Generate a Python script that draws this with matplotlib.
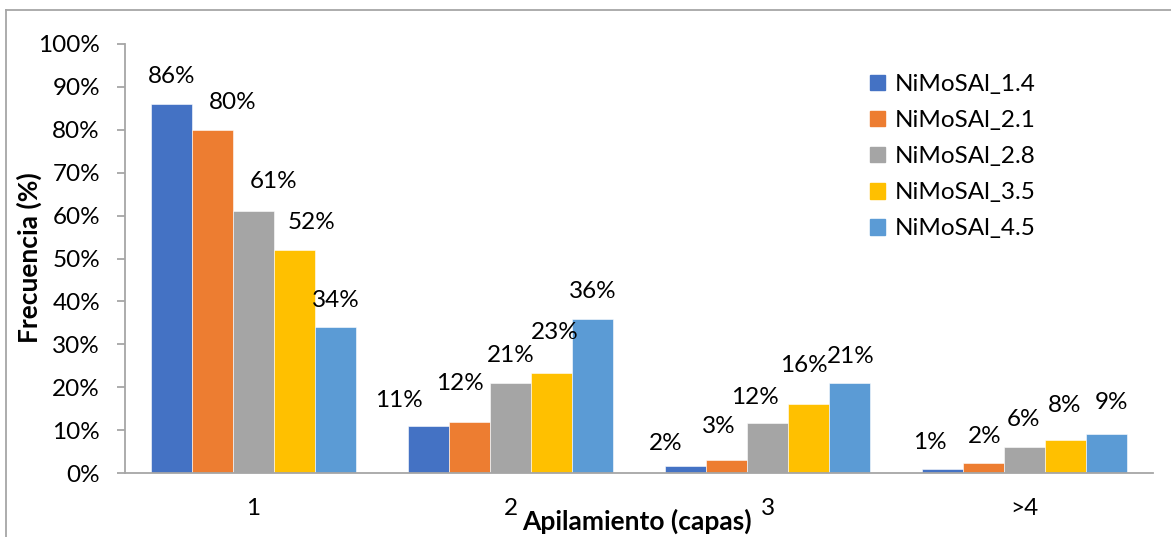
import matplotlib.pyplot as plt
import numpy as np
from matplotlib.lines import Line2D
from matplotlib.patches import Patch

plt.rcParams['font.family'] = ['Lato', 'DejaVu Sans']

# Datos
categorias = ['1', '2', '3', '>4']
series = ['NiMoSAl_1.4', 'NiMoSAl_2.1', 'NiMoSAl_2.8', 'NiMoSAl_3.5', 'NiMoSAl_4.5']
s_14 = [86, 11, 1.6, 0.9]
s_21 = [80, 12, 3.0, 2.3]
s_28 = [61, 21, 11.6, 6.1]
s_35 = [52, 23.3, 16.1, 7.7]
s_45 = [34, 36, 21, 9.1]
valores = [s_14, s_21, s_28, s_35, s_45]

colores = ['#4472C4', '#ED7D31', '#A5A5A5', '#FFC000', '#5B9BD5']

# desplazamiento de las etiquetas (px): dx, dy sobre la barra
etq_dx = [[0, -29, -20, -12], [20, -9, -8, 1], [20, 0, -13, -1], [17, 3, -5, -1], [0, 0, 1, 5]]
etq_dy = [[28, 25, 23, 27], [27, 38, 34, 27], [30, 27, 26, 27], [27, 41, 38, 34], [27, 27, 26, 31]]

W, H, DPI = 1171, 537, 100
fig = plt.figure(figsize=(W / DPI, H / DPI), dpi=DPI)
ax = fig.add_axes([125 / W, 1 - 473 / H, (1153 - 125) / W, (473 - 44) / H])

fs = 17.5
fs_tit = 19
x = np.arange(len(categorias))
ancho = 0.16
for i, (vals, col) in enumerate(zip(valores, colores)):
    pos = x + (i - 2) * ancho
    ax.bar(pos, vals, ancho, color=col, edgecolor='white', linewidth=0.4, label=series[i])
    for j, v in enumerate(vals):
        ax.annotate(f"{v:.0f}%", (pos[j], v), xytext=(etq_dx[i][j] * 0.72, etq_dy[i][j] * 0.72),
                    textcoords='offset points', ha='center', va='center', fontsize=fs)

ax.set_xlim(-0.5, len(categorias) - 0.5)
ax.set_ylim(0, 100)
ax.set_yticks(np.arange(0, 101, 10))
ax.set_yticklabels([f"{t}%" for t in range(0, 101, 10)], fontsize=fs)
ax.set_xticks(x)
ax.set_xticklabels(categorias, fontsize=fs)

for s in ['top', 'right']:
    ax.spines[s].set_visible(False)
for s in ['left', 'bottom']:
    ax.spines[s].set_color('#A6A6A6')
    ax.spines[s].set_linewidth(1.3)
ax.tick_params(axis='y', length=6, width=1.3, color='#A6A6A6', pad=12)
ax.tick_params(axis='x', length=0, pad=18)

fig.text(637 / W, 1 - 521 / H, 'Apilamiento (capas)', fontsize=fs_tit, fontweight='bold',
         ha='center', va='center')
fig.text(29 / W, 1 - 258 / H, 'Frecuencia (%)', fontsize=fs_tit, fontweight='bold',
         ha='center', va='center', rotation=90)

handles = [Patch(color=c) for c in colores]
ax.legend(handles, series, loc='upper left', bbox_to_anchor=((858 - 125) / (1153 - 125), 1 - (62 - 44) / (473 - 44)),
          frameon=False, fontsize=fs, handlelength=0.6, handleheight=0.6, handletextpad=0.4,
          labelspacing=0.62, borderpad=0)

# marco exterior
fig.add_artist(Line2D([6 / W, 6 / W], [0, 1 - 9.5 / H], color='#A6A6A6', lw=1.3))
fig.add_artist(Line2D([6 / W, 1], [1 - 9.5 / H, 1 - 9.5 / H], color='#A6A6A6', lw=1.3))

plt.savefig('out.png', dpi=DPI)
